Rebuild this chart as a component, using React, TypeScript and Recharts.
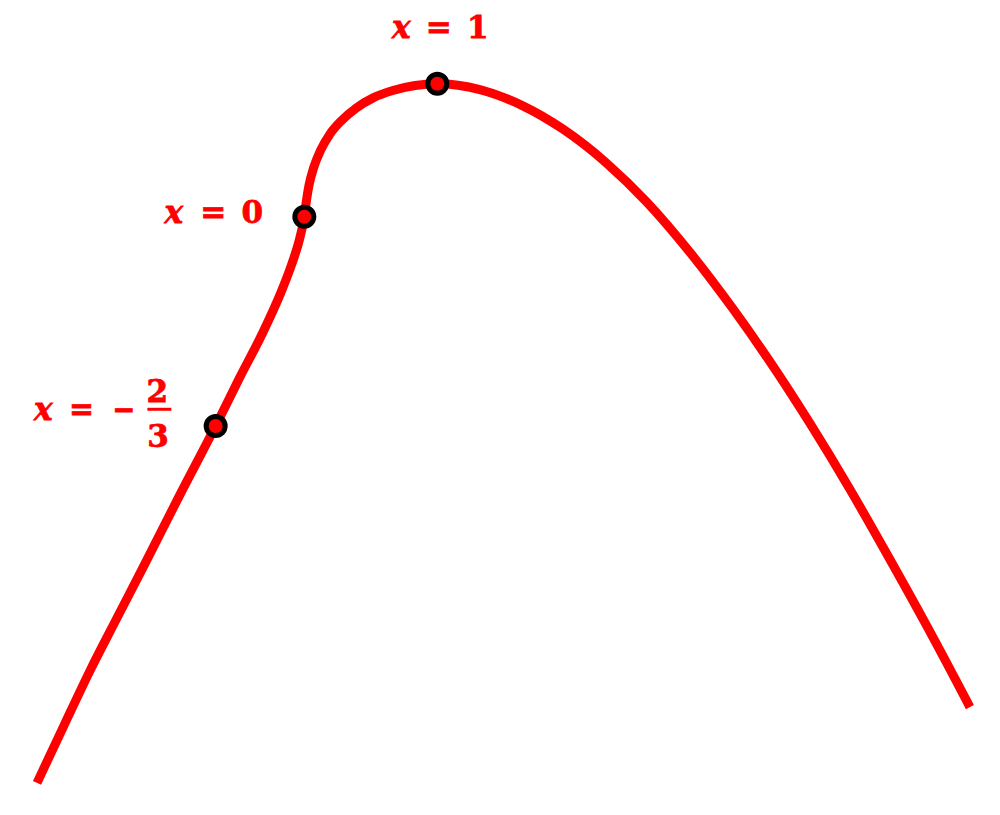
import { ComposedChart, Line, Scatter, XAxis, YAxis } from "recharts";

// curve (x in units, y in units)
const curveX = [
  -2.01, -1.812, -1.612, -1.406, -1.199, -0.936, -0.667, -0.485, -0.312, -0.184,
  -0.094, -0.034, 0, 0.0165, 0.0361, 0.0714, 0.1218, 0.1917, 0.2797, 0.3925,
  0.5173, 0.6654, 1, 1.32, 1.643, 1.944, 2.274, 2.575, 2.921, 3.222, 3.553, 3.801,
  4.102, 4.38, 4.68, 4.981, 5.004,
];
const curveY = [
  -4.258, -3.837, -3.416, -3.013, -2.611, -2.092, -1.574, -1.208, -0.871, -0.589,
  -0.355, -0.161, 0, 0.1256, 0.2406, 0.3729, 0.4982, 0.6203, 0.7233, 0.8192,
  0.894, 0.9489, 1.0, 0.956, 0.834, 0.659, 0.402, 0.11, -0.295, -0.692, -1.168,
  -1.553, -2.05, -2.537, -3.078, -3.644, -3.688,
];

// marked points
const markerX = [-2 / 3, 0, 1];
const markerY = [-1.574, 0, 1.0];
const markerLabels = ["x = −2/3", "x = 0", "x = 1"];

const curveData = curveX.map((x, i) => ({ x, y: curveY[i] }));
const markerData = markerX.map((x, i) => ({ x, y: markerY[i], label: markerLabels[i] }));

const RED = "#ff0000";
const FONT = "'DejaVu Serif', serif";

type Glyph = { t: string; dx: number; dy: number; italic?: boolean; w?: number };

// glyph offsets from the marker centre, px
const LABEL_LAYOUT: Record<string, { glyphs: Glyph[]; bar?: [number, number, number] }> = {
  "x = 1": {
    glyphs: [
      { t: "x", dx: -36, dy: -46, italic: true },
      { t: "=", dx: 1.5, dy: -46, w: 26 },
      { t: "1", dx: 40.5, dy: -46 },
    ],
  },
  "x = 0": {
    glyphs: [
      { t: "x", dx: -130.5, dy: 6, italic: true },
      { t: "=", dx: -91.2, dy: 6, w: 26 },
      { t: "0", dx: -52, dy: 6 },
    ],
  },
  "x = −2/3": {
    glyphs: [
      { t: "x", dx: -172.5, dy: -6, italic: true },
      { t: "=", dx: -134.2, dy: -6, w: 25 },
      { t: "−", dx: -91.7, dy: -6, w: 23 },
      { t: "2", dx: -58.3, dy: -24.3 },
      { t: "3", dx: -57.7, dy: 21.3 },
    ],
    bar: [-68.3, -44.3, -16.7],
  },
};

function Marker(props: any) {
  const { cx, cy, payload } = props;
  const layout = LABEL_LAYOUT[payload.label];
  return (
    <g>
      {layout && (
        <g
          fill={RED}
          stroke={RED}
          strokeWidth={0.8}
          fontFamily={FONT}
          fontWeight="bold"
          fontSize={31}
        >
          {layout.glyphs.map((g, i) => (
            <text
              key={i}
              x={g.w ? cx + g.dx - g.w / 2 : cx + g.dx}
              y={cy + g.dy}
              textAnchor={g.w ? "start" : "middle"}
              fontStyle={g.italic ? "italic" : "normal"}
              textLength={g.w}
              lengthAdjust={g.w ? "spacingAndGlyphs" : undefined}
            >
              {g.t}
            </text>
          ))}
          {layout.bar && (
            <line
              x1={cx + layout.bar[0]}
              x2={cx + layout.bar[1]}
              y1={cy + layout.bar[2]}
              y2={cy + layout.bar[2]}
              stroke={RED}
              strokeWidth={3}
            />
          )}
        </g>
      )}
      <circle cx={cx} cy={cy} r={9.5} fill={RED} stroke="#000" strokeWidth={5} />
    </g>
  );
}

export default function App() {
  return (
    <div style={{ position: "absolute", left: 0, top: 0, background: "#fff" }}>
      <ComposedChart
        width={1000}
        height={815}
        margin={{ top: 0, right: 30, bottom: 0, left: 37 }}
      >
        <XAxis type="number" dataKey="x" domain={[-2.01, 5.005]} hide />
        <YAxis type="number" dataKey="y" domain={[-4.5, 1.63]} hide />
        <Line
          data={curveData}
          type="monotone"
          dataKey="y"
          stroke={RED}
          strokeWidth={9}
          dot={false}
          activeDot={false}
          isAnimationActive={false}
        />
        <Scatter
          data={markerData}
          dataKey="y"
          shape={Marker}
          isAnimationActive={false}
        />
      </ComposedChart>
    </div>
  );
}
